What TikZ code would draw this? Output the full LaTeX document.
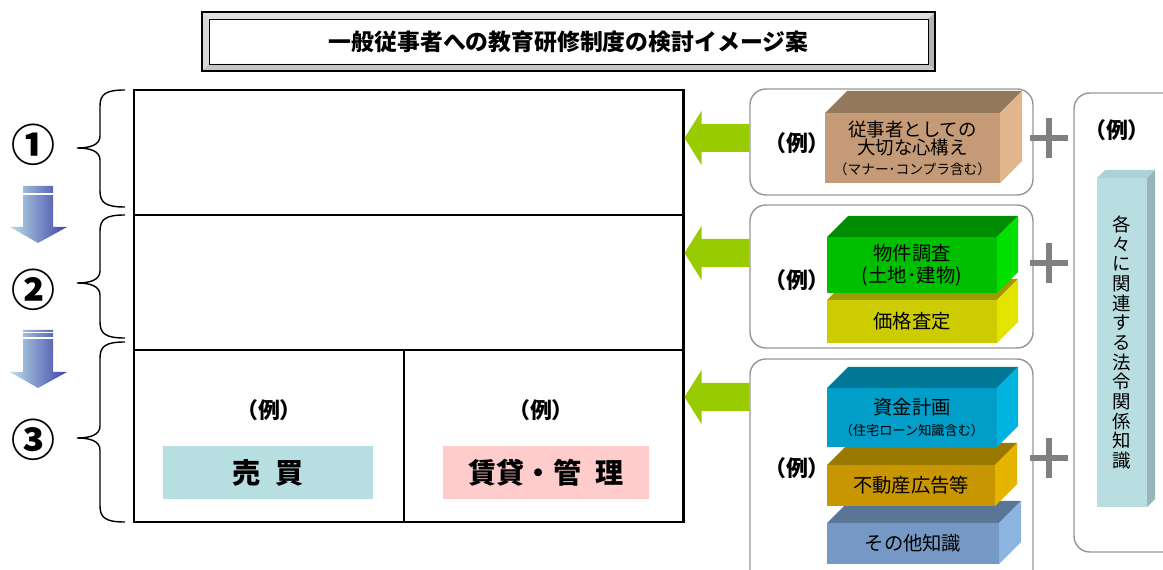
\documentclass[tikz,border=0pt]{standalone}
\usepackage{fontspec}
\setmainfont{Noto Sans CJK JP}
\usepackage{xcolor}
\usepackage{tikz}
\usetikzlibrary{positioning,fit,calc}
\definecolor{framegray}{RGB}{150,150,150}
\definecolor{arrowgreen}{RGB}{153,204,0}
\definecolor{plusgray}{RGB}{128,128,128}
\definecolor{baibaicyan}{RGB}{183,222,225}
\definecolor{chintaipink}{RGB}{255,204,204}
\definecolor{arrowlight}{RGB}{185,222,228}
\definecolor{arrowdark}{RGB}{62,66,170}
\definecolor{kokoro}{RGB}{196,155,118}
\definecolor{kokorotop}{RGB}{148,120,92}
\definecolor{kokoroside}{RGB}{226,182,140}
\definecolor{chosa}{RGB}{0,190,0}
\definecolor{chosatop}{RGB}{0,140,0}
\definecolor{chosaside}{RGB}{0,225,0}
\definecolor{satei}{RGB}{204,204,0}
\definecolor{sateitop}{RGB}{160,155,0}
\definecolor{sateiside}{RGB}{228,228,0}
\definecolor{shikin}{RGB}{0,158,200}
\definecolor{shikintop}{RGB}{0,120,150}
\definecolor{shikinside}{RGB}{0,180,225}
\definecolor{kokoku}{RGB}{200,150,0}
\definecolor{kokokutop}{RGB}{155,120,0}
\definecolor{kokokuside}{RGB}{228,180,0}
\definecolor{sonota}{RGB}{118,152,196}
\definecolor{sonotatop}{RGB}{90,118,150}
\definecolor{sonotaside}{RGB}{140,180,225}
\definecolor{horei}{RGB}{185,222,226}
\definecolor{horeitop}{RGB}{170,210,215}
\definecolor{horeiside}{RGB}{150,182,188}

% 3D block: [text style] name, x1, y1, x2, y2, colour, depth, text
\newcommand{\cubeblock}[9][]{%
  \fill[#7top] (#3,#4) -- ++(#8,-#8) -- ++(#5-#3,0) -- (#5,#4) -- cycle;
  \fill[#7side] (#5,#4) -- ++(#8,-#8) -- ++(0,#6-#4) -- (#5,#6) -- cycle;
  \node[inner sep=0pt, fill=#7, fit={(#3,#4) (#5,#6)}] (#2) {};
  \node[blocktext, #1] (#2-t) at (#2.center) {#9};
}

\tikzset{
  blocktext/.style={inner sep=0pt, align=center, font=\fontsize{11}{12.5}\selectfont},
  rei/.style={font=\bfseries\fontsize{12.5}{14}\selectfont},
  group/.style={draw=framegray, line width=0.8pt, rounded corners=9pt, inner sep=0pt},
  mainframe/.style={draw, line width=1.7pt, inner sep=0pt},
  thinline/.style={line width=0.7pt},
  circnum/.style={font=\bfseries\fontsize{25}{25}\selectfont},
  plus/.style={plusgray, line width=3pt},
  bigtext/.style={inner sep=0pt, font=\bfseries\fontsize{16}{18}\selectfont}
}

\begin{document}
\begin{tikzpicture}[x=0.02cm, y=-0.02cm]
  \path[use as bounding box, clip] (0,0) rectangle (1163,570);

  % Title with bevelled frame
  \fill[gray!25] (202,12) -- (935,12) -- (928,19) -- (209,19) -- cycle;
  \fill[gray!30] (202,12) -- (209,19) -- (209,64) -- (202,71) -- cycle;
  \fill[gray!60] (935,12) -- (935,71) -- (928,64) -- (928,19) -- cycle;
  \fill[gray!45] (202,71) -- (935,71) -- (928,64) -- (209,64) -- cycle;
  \draw[line width=0.6pt] (202,12) rectangle (935,71);
  \node[draw, line width=0.5pt, inner sep=0pt, fit={(209,19) (928,64)}] (title) {};
  \node[font=\bfseries\fontsize{13}{15}\selectfont] (title-t) at (title.center) {一般従事者への教育研修制度の検討イメージ案};

  % Main frame
  \node[mainframe, fit={(134,90) (683,522)}] (main) {};
  \draw[thinline] (134,215) -- (683,215);
  \draw[thinline] (134,350) -- (683,350);
  \draw[thinline] (404,350) -- (404,522);

  % Bottom cells
  \node[rei] (rei-a) at (269,410) {（例）};
  \node[rei] (rei-b) at (541,410) {（例）};
  \node[inner sep=0pt, fill=baibaicyan, fit={(163,446) (373,499)}] (baibai) {};
  \node[bigtext] (baibai-t) at (baibai.center) {売\hspace{0.5em}買};
  \node[inner sep=0pt, fill=chintaipink, fit={(443,446) (649,499)}] (chintai) {};
  \node[bigtext] (chintai-t) at (chintai.center) {賃貸・管\hspace{0.5em}理};

  % Step numbers and braces
  \node[circnum] (n1) at (33,145) {①};
  \node[circnum] (n2) at (33,290) {②};
  \node[circnum] (n3) at (33,440) {③};
  \foreach \t/\m/\b in {90/148/207, 215/283/338, 342/438/522}
    \draw[line width=0.8pt] (125,\t) .. controls (106,\t) and (100,\t+4) .. (100,\t+16)
      -- (100,\m-12) .. controls (100,\m-3) and (90,\m) .. (77,\m)
      .. controls (90,\m) and (100,\m+3) .. (100,\m+12)
      -- (100,\b-16) .. controls (100,\b-4) and (106,\b) .. (125,\b);

  % Down arrows between the steps
  \shade[left color=arrowlight, right color=arrowdark]
    (23,186) -- (53,186) -- (53,227) -- (67,227) -- (38,243) -- (10,227) -- (23,227) -- cycle;
  \draw[white, line width=0.6pt] (23,194) -- (53,194);
  \shade[left color=arrowlight, right color=arrowdark]
    (23,330) -- (53,330) -- (53,372) -- (67,372) -- (38,388) -- (10,372) -- (23,372) -- cycle;
  \draw[white, line width=0.6pt] (23,332.5) -- (53,332.5) (23,338) -- (53,338);

  % Example groups
  \node[group, fit={(750,89) (1033,195)}] (grp1) {};
  \node[group, fit={(750,205) (1033,348)}] (grp2) {};
  \node[group, fit={(750,359) (1033,590)}] (grp3) {};
  \node[group, fit={(1074,93) (1200,552)}] (grp4) {};

  % Green arrows into the frame
  \foreach \g/\yy in {grp1/138, grp2/253, grp3/397}
    \fill[arrowgreen] (main.east |- 0,\yy) coordinate (tip) -- ++(17,-27) -- ++(0,13)
      -- (\g.west |- 0,\yy-14) -- (\g.west |- 0,\yy+14)
      -- ($(tip)+(17,14)$) -- ($(tip)+(17,27)$) -- cycle;

  \node[rei] (rei1) at (797,143) {（例）};
  \node[rei] (rei2) at (797,280) {（例）};
  \node[rei] (rei3) at (797,468) {（例）};
  \node[rei] (rei4) at (1117,130) {（例）};

  % Blocks, lower ones first
  \cubeblock[font=\fontsize{10.5}{10.3}\selectfont]{kokoro}{825}{113}{1000}{183}{kokoro}{22}{従事者としての\\大切な心構え\\[1pt]{\fontsize{7.8}{9}\selectfont（マナー･コンプラ含む）}}
  \cubeblock{satei}{827}{300}{997}{343}{satei}{21}{価格査定}
  \cubeblock{chosa}{827}{237}{997}{293}{chosa}{21}{物件調査\\(土地･建物)}
  \cubeblock{sonota}{827}{523}{999}{564}{sonota}{22}{その他知識}
  \cubeblock{kokoku}{827}{465}{995}{506}{kokoku}{22}{不動産広告等}
  \cubeblock{shikin}{827}{388}{997}{447}{shikin}{21}{資金計画\\[-1pt]{\fontsize{7.5}{9}\selectfont（住宅ローン知識含む）}}
  \cubeblock[font=\fontsize{10.5}{11.2}\selectfont]{horei}{1097}{178}{1147}{507}{horei}{8}{各\\々\\に\\関\\連\\す\\る\\法\\令\\関\\係\\知\\識}

  % Plus signs
  \foreach \yy in {138,263,458}
    \draw[plus] (1030,\yy) -- (1068,\yy) (1049,\yy-20) -- (1049,\yy+20);
\end{tikzpicture}
\end{document}
